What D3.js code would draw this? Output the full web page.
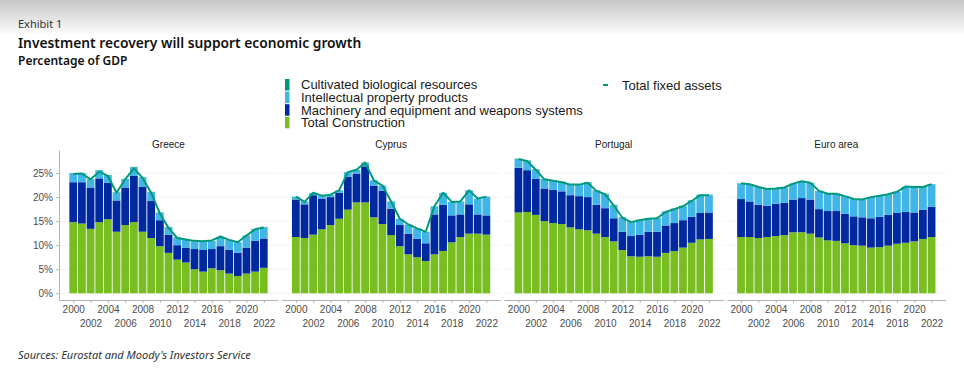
<!DOCTYPE html>
<html>
<head>
<meta charset="utf-8">
<script src="https://cdn.jsdelivr.net/npm/d3@7"></script>
<style>
  body { margin: 0; background: #fff; }
  svg { display: block; }
</style>
</head>
<body>
<div id="chart"></div>
<script>
const years = [2000, 2001, 2002, 2003, 2004, 2005, 2006, 2007, 2008, 2009, 2010, 2011,
  2012, 2013, 2014, 2015, 2016, 2017, 2018, 2019, 2020, 2021, 2022];
const countries = ['Greece', 'Cyprus', 'Portugal', 'Euro area'];
const yTicks = [0, 5, 10, 15, 20, 25];
const xTicks = [2000, 2002, 2004, 2006, 2008, 2010, 2012, 2014, 2016, 2018, 2020, 2022];

// % of GDP, one row per country (Greece, Cyprus, Portugal, Euro area)
const construction = [
  [14.8, 14.5, 13.4, 14.8, 15.4, 12.8, 14.2, 14.8, 12.8, 11.5, 9.8, 8.4, 7.0, 6.4, 5.0, 4.5, 5.2, 4.8, 4.1, 3.6, 4.1, 4.5, 5.3],
  [11.7, 11.5, 12.2, 13.3, 14.2, 15.5, 17.4, 18.9, 18.9, 15.8, 14.4, 12.1, 9.8, 8.1, 7.5, 6.7, 8.1, 8.8, 10.6, 11.7, 12.4, 12.4, 12.2],
  [16.8, 16.9, 16.3, 15.0, 14.6, 14.4, 13.7, 13.3, 13.1, 12.4, 11.7, 10.8, 9.0, 7.7, 7.6, 7.7, 7.6, 8.4, 8.8, 9.5, 10.5, 11.2, 11.3],
  [11.7, 11.7, 11.5, 11.7, 11.9, 12.1, 12.7, 12.7, 12.4, 11.6, 11.0, 10.9, 10.4, 10.0, 9.9, 9.5, 9.6, 9.9, 10.3, 10.5, 10.8, 11.3, 11.7],
];
const machinery = [
  [8.3, 8.6, 8.6, 9.1, 7.6, 6.5, 7.8, 9.6, 9.4, 7.7, 5.4, 3.8, 3.0, 3.1, 4.2, 4.5, 4.0, 5.0, 5.0, 4.8, 5.4, 6.4, 6.1],
  [7.8, 7.0, 8.2, 6.4, 5.8, 5.4, 6.8, 6.0, 7.5, 6.6, 6.9, 5.5, 4.4, 4.3, 3.8, 3.7, 8.3, 9.6, 5.6, 4.7, 6.1, 4.0, 4.0],
  [9.3, 8.7, 7.5, 6.8, 6.9, 6.8, 6.7, 6.9, 6.9, 6.0, 6.0, 4.8, 3.8, 4.2, 4.6, 5.1, 5.2, 5.7, 5.8, 5.7, 5.4, 5.5, 5.5],
  [7.9, 7.4, 6.9, 6.5, 6.7, 6.7, 6.8, 7.1, 7.1, 5.9, 6.1, 6.2, 6.1, 6.0, 5.9, 6.1, 6.3, 6.4, 6.4, 6.4, 6.0, 6.1, 6.3],
];
const intellectual = [
  [1.8, 1.8, 1.6, 1.6, 1.5, 1.6, 1.7, 1.8, 1.8, 1.8, 1.5, 1.5, 1.5, 1.7, 1.6, 1.7, 1.6, 1.8, 1.9, 2.1, 2.4, 2.4, 2.3],
  [0.6, 0.6, 0.5, 0.6, 0.5, 0.5, 1.0, 0.8, 0.8, 1.1, 1.1, 1.5, 1.3, 1.9, 2.2, 2.4, 1.7, 2.5, 2.8, 2.7, 2.9, 3.3, 3.9],
  [1.8, 1.9, 1.9, 1.9, 1.9, 1.9, 2.2, 2.4, 3.0, 2.9, 2.9, 2.7, 2.9, 2.9, 3.0, 2.7, 2.8, 2.8, 2.9, 2.9, 3.3, 3.7, 3.6],
  [3.3, 3.6, 3.7, 3.5, 3.2, 3.2, 3.3, 3.5, 3.5, 3.8, 3.6, 3.6, 3.7, 3.6, 3.7, 4.4, 4.4, 4.3, 4.4, 5.3, 5.3, 4.7, 4.7],
];
const cultivated = [
  [0.1, 0.1, 0.1, 0.1, 0.1, 0.1, 0.1, 0.1, 0.1, 0.1, 0.1, 0.1, 0.1, 0.1, 0.1, 0.1, 0.1, 0.1, 0.1, 0.1, 0.1, 0.1, 0.1],
  [0.0, 0.0, 0.0, 0.0, 0.0, 0.0, 0.0, 0.0, 0.0, 0.0, 0.0, 0.0, 0.0, 0.0, 0.0, 0.0, 0.0, 0.0, 0.0, 0.0, 0.0, 0.0, 0.0],
  [0.1, 0.1, 0.1, 0.1, 0.1, 0.1, 0.1, 0.1, 0.1, 0.1, 0.1, 0.1, 0.1, 0.1, 0.1, 0.1, 0.1, 0.1, 0.1, 0.1, 0.1, 0.1, 0.1],
  [0.0, 0.0, 0.0, 0.0, 0.0, 0.0, 0.0, 0.0, 0.0, 0.0, 0.0, 0.0, 0.0, 0.0, 0.0, 0.0, 0.0, 0.0, 0.0, 0.0, 0.0, 0.0, 0.0],
];
const totalFixed = [
  [24.8, 24.9, 23.7, 25.3, 24.4, 20.9, 23.7, 26.0, 24.0, 20.9, 16.6, 13.6, 11.5, 11.2, 10.9, 10.8, 11.0, 11.8, 11.1, 10.6, 12.0, 13.3, 13.7],
  [20.1, 19.0, 20.9, 20.3, 20.5, 21.4, 25.2, 25.7, 27.2, 23.5, 22.4, 19.1, 15.5, 14.3, 13.5, 12.8, 18.1, 20.9, 19.0, 19.1, 21.4, 19.7, 20.1],
  [27.9, 27.5, 25.7, 23.7, 23.4, 23.1, 22.6, 22.6, 23.0, 21.3, 20.6, 18.3, 15.7, 14.8, 15.2, 15.5, 15.6, 16.9, 17.5, 18.1, 19.2, 20.4, 20.4],
  [22.9, 22.7, 22.1, 21.7, 21.8, 22.0, 22.8, 23.3, 23.0, 21.3, 20.7, 20.7, 20.2, 19.6, 19.5, 20.0, 20.3, 20.6, 21.1, 22.2, 22.1, 22.1, 22.7],
];

const stackKeys = ['construction', 'machinery', 'intellectual', 'cultivated'];
const legendLabels = {
  cultivated: 'Cultivated biological resources',
  intellectual: 'Intellectual property products',
  machinery: 'Machinery and equipment and weapons systems',
  construction: 'Total Construction',
};
const colors = {
  construction: '#78be21',
  machinery: '#0029a0',
  intellectual: '#41b6e6',
  cultivated: '#00957a',
};
const lineColor = '#00997a';

const width = 964;
const height = 372;
const panel = { left: 59, step: 222.6, width: 219, top: 150, bottom: 300 };
const axisFont = 'Liberation Sans, Arial, sans-serif';
const headFont = '"Noto Sans", "Open Sans", sans-serif';

const svg = d3.select('#chart')
  .append('svg')
  .attr('width', width)
  .attr('height', height);

// grey fade at the top of the page
const grad = svg.append('defs').append('linearGradient')
  .attr('id', 'topFade')
  .attr('x1', 0).attr('y1', 0).attr('x2', 0).attr('y2', 1);
grad.append('stop').attr('offset', '0%').attr('stop-color', '#c6c6c6');
grad.append('stop').attr('offset', '100%').attr('stop-color', '#ffffff');
svg.append('rect')
  .attr('width', width).attr('height', 36)
  .attr('fill', 'url(#topFade)');

// headings
svg.append('text')
  .attr('x', 18).attr('y', 28)
  .style('font-family', headFont).style('font-size', '11px')
  .attr('fill', '#333')
  .text('Exhibit 1');
svg.append('text')
  .attr('x', 18).attr('y', 48)
  .style('font-family', headFont).style('font-size', '13.8px').style('font-weight', 600)
  .attr('fill', '#111')
  .text('Investment recovery will support economic growth');
svg.append('text')
  .attr('x', 18).attr('y', 65)
  .style('font-family', headFont).style('font-size', '12px').style('font-weight', 600)
  .attr('fill', '#111')
  .text('Percentage of GDP');
svg.append('text')
  .attr('x', 18).attr('y', 359)
  .style('font-family', headFont).style('font-size', '11px').style('font-style', 'italic')
  .attr('fill', '#333')
  .text("Sources: Eurostat and Moody's Investors Service");

// legend
const legendOrder = ['cultivated', 'intellectual', 'machinery', 'construction'];
const legend = svg.append('g').attr('transform', 'translate(285,79)');
legendOrder.forEach((key, i) => {
  const row = legend.append('g').attr('transform', `translate(0,${i * 12.6})`);
  row.append('rect')
    .attr('width', 4.5).attr('height', 11.5)
    .attr('fill', colors[key]);
  row.append('text')
    .attr('x', 16).attr('y', 10.3)
    .style('font-family', axisFont).style('font-size', '13px')
    .attr('fill', '#1a1a1a')
    .text(legendLabels[key]);
});
const lineKey = svg.append('g').attr('transform', 'translate(603,85)');
lineKey.append('line')
  .attr('x1', 0).attr('x2', 5)
  .attr('stroke', lineColor).attr('stroke-width', 2);
lineKey.append('text')
  .attr('x', 19).attr('y', 4.6)
  .style('font-family', axisFont).style('font-size', '13px')
  .attr('fill', '#1a1a1a')
  .text('Total fixed assets');

// shared scales
const y = d3.scaleLinear()
  .domain([-1.4, 29.8])
  .range([panel.bottom, panel.top]);
const x = d3.scaleLinear()
  .domain([1999.5 - 1.145, 2022.5 + 1.145])
  .range([0, panel.width]);

const stack = d3.stack().keys(stackKeys);

function drawPanel(ci) {
  const g = svg.append('g')
    .attr('transform', `translate(${panel.left + ci * panel.step},0)`);

  // gridlines
  g.append('g')
    .selectAll('line')
    .data(yTicks)
    .join('line')
    .attr('x1', 0).attr('x2', panel.width)
    .attr('y1', (d) => y(d)).attr('y2', (d) => y(d))
    .attr('stroke', '#f0f0f0')
    .attr('stroke-width', 0.8);

  const rows = years.map((year, i) => ({
    year,
    construction: construction[ci][i],
    machinery: machinery[ci][i],
    intellectual: intellectual[ci][i],
    cultivated: cultivated[ci][i],
  }));

  g.append('g')
    .selectAll('g')
    .data(stack(rows))
    .join('g')
    .attr('fill', (d) => colors[d.key])
    .selectAll('rect')
    .data((d) => d)
    .join('rect')
    .attr('x', (d) => x(d.data.year - 0.45))
    .attr('width', x(0.9) - x(0))
    .attr('y', (d) => y(d[1]))
    .attr('height', (d) => y(d[0]) - y(d[1]));

  const line = d3.line()
    .x((d, i) => x(years[i]))
    .y((d) => y(d));
  g.append('path')
    .datum(totalFixed[ci])
    .attr('d', line)
    .attr('fill', 'none')
    .attr('stroke', lineColor)
    .attr('stroke-width', 2)
    .attr('stroke-linejoin', 'round');

  // x axis with two rows of labels
  const xAxis = g.append('g')
    .attr('transform', `translate(0,${panel.bottom})`)
    .call(d3.axisBottom(x).tickValues(xTicks).tickFormat(d3.format('d'))
      .tickSize(3).tickSizeOuter(0));
  xAxis.select('.domain').attr('stroke', '#b3b3b3');
  xAxis.selectAll('.tick line').attr('stroke', '#b3b3b3');
  xAxis.selectAll('.tick text')
    .attr('y', (d, i) => (i % 2 === 0 ? 6 : 20))
    .style('font-family', axisFont).style('font-size', '10px')
    .attr('fill', '#4d4d4d');

  if (ci === 0) {
    const yAxis = g.append('g')
      .call(d3.axisLeft(y).tickValues(yTicks).tickFormat((d) => `${d}%`)
        .tickSize(3).tickSizeOuter(0));
    yAxis.select('.domain').attr('stroke', '#b3b3b3');
    yAxis.selectAll('.tick line').attr('stroke', '#b3b3b3');
    yAxis.selectAll('.tick text')
      .style('font-family', axisFont).style('font-size', '10px')
      .attr('fill', '#4d4d4d');
  }

  g.append('text')
    .attr('x', panel.width / 2).attr('y', 147.5)
    .attr('text-anchor', 'middle')
    .style('font-family', axisFont).style('font-size', '10px')
    .attr('fill', '#1a1a1a')
    .text(countries[ci]);
}

countries.forEach((c, i) => drawPanel(i));
</script>
</body>
</html>
